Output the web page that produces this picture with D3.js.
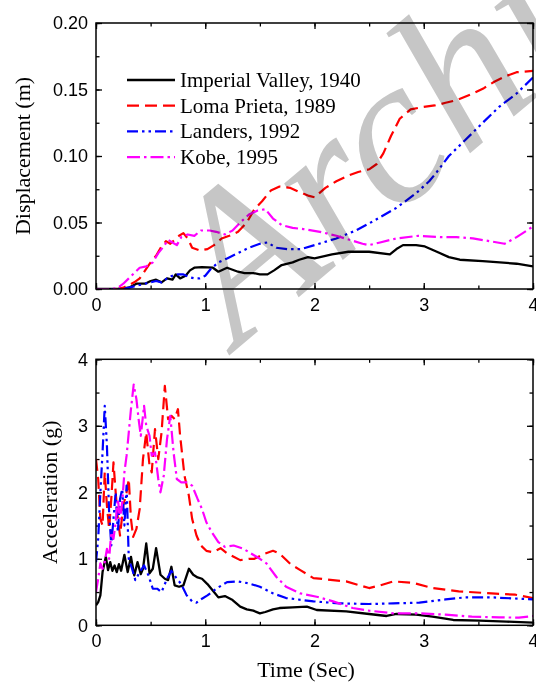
<!DOCTYPE html>
<html><head><meta charset="utf-8">
<script src="https://cdn.jsdelivr.net/npm/d3@7"></script>
<style>body{margin:0;background:#fff} svg{display:block}</style>
</head><body>
<svg id="chart" width="536" height="684"></svg>
<script>
// ---------- data ----------
const seriesNames = ["Imperial Valley, 1940", "Loma Prieta, 1989", "Landers, 1992", "Kobe, 1995"];
const seriesColors = ["#000000", "#ff0000", "#0000ff", "#ff00ff"];
const seriesDashes = [null, "12,6", "11,4,2.5,4,2.5,4", "13,4,2.5,4"];

const xTicks = [0, 1, 2, 3, 4];
const dispTicks = [0, 0.05, 0.10, 0.15, 0.20];
const accTicks = [0, 1, 2, 3, 4];

// Displacement (m) vs time (s)
const dispImperialT = [0,0.2,0.3,0.37,0.45,0.5,0.55,0.6,0.65,0.7,0.73,0.77,0.82,0.86,0.9,0.97,1.07,1.12,1.2,1.3,1.36,1.44,1.5,1.57,1.63,1.7,1.8,1.86,1.94,2.0,2.16,2.31,2.5,2.69,2.75,2.81,2.93,3.01,3.12,3.23,3.33,3.54,3.85,4.0];
const dispImperialV = [0,0,0.001,0.004,0.004,0.006,0.007,0.005,0.008,0.007,0.011,0.008,0.010,0.014,0.016,0.0165,0.016,0.013,0.016,0.013,0.012,0.012,0.011,0.011,0.014,0.018,0.020,0.022,0.024,0.023,0.026,0.028,0.028,0.026,0.030,0.033,0.033,0.032,0.028,0.024,0.022,0.021,0.019,0.017];

const dispLomaT = [0,0.2,0.25,0.3,0.35,0.4,0.45,0.5,0.55,0.6,0.64,0.68,0.72,0.76,0.8,0.84,0.88,0.95,1.02,1.08,1.15,1.22,1.3,1.38,1.45,1.52,1.6,1.68,1.78,1.86,1.95,2.0,2.1,2.2,2.3,2.4,2.5,2.57,2.63,2.7,2.78,2.88,3.0,3.1,3.2,3.3,3.45,3.55,3.65,3.75,3.85,4.0];
const dispLomaV = [0,0,0.001,0.003,0.005,0.008,0.014,0.020,0.025,0.032,0.036,0.034,0.037,0.040,0.042,0.038,0.031,0.029,0.030,0.033,0.038,0.040,0.043,0.050,0.060,0.066,0.074,0.077,0.076,0.073,0.070,0.069,0.076,0.081,0.085,0.088,0.090,0.094,0.102,0.115,0.128,0.135,0.137,0.138,0.140,0.142,0.147,0.151,0.156,0.160,0.163,0.164];

const dispLandersT = [0,0.25,0.3,0.35,0.4,0.5,0.55,0.6,0.65,0.7,0.75,0.8,0.85,0.9,0.95,1.0,1.05,1.12,1.2,1.3,1.4,1.5,1.57,1.65,1.75,1.88,2.0,2.2,2.38,2.56,2.75,2.93,3.05,3.12,3.23,3.38,3.54,3.69,3.85,4.0];
const dispLandersV = [0,0,0.001,0.002,0.003,0.005,0.006,0.005,0.008,0.010,0.011,0.011,0.009,0.008,0.008,0.010,0.015,0.020,0.023,0.027,0.031,0.034,0.035,0.031,0.030,0.030,0.033,0.038,0.044,0.052,0.061,0.072,0.081,0.088,0.100,0.112,0.125,0.137,0.147,0.159];

const dispKobeT = [0,0.15,0.2,0.25,0.3,0.35,0.4,0.46,0.52,0.57,0.62,0.66,0.7,0.74,0.78,0.84,0.9,0.96,1.04,1.1,1.18,1.25,1.32,1.4,1.48,1.55,1.62,1.7,1.8,1.9,2.05,2.2,2.32,2.44,2.5,2.6,2.75,2.95,3.15,3.3,3.45,3.6,3.74,3.85,4.0];
const dispKobeV = [0,0,0.001,0.004,0.008,0.012,0.016,0.017,0.020,0.027,0.032,0.037,0.035,0.033,0.039,0.041,0.040,0.044,0.044,0.043,0.041,0.044,0.050,0.056,0.059,0.060,0.053,0.048,0.046,0.045,0.043,0.040,0.037,0.034,0.033,0.035,0.038,0.040,0.039,0.039,0.038,0.036,0.034,0.039,0.047];

// Acceleration (g) vs time (s)
const accImperialT = [0,0.02,0.04,0.06,0.09,0.11,0.13,0.15,0.17,0.19,0.21,0.23,0.26,0.29,0.32,0.35,0.38,0.41,0.43,0.46,0.49,0.52,0.55,0.59,0.63,0.66,0.69,0.72,0.76,0.8,0.85,0.89,0.93,0.97,1.02,1.08,1.12,1.18,1.25,1.32,1.38,1.44,1.5,1.55,1.62,1.68,1.8,1.93,2.02,2.29,2.5,2.66,2.75,2.93,3.08,3.27,3.51,3.76,4.0];
const accImperialV = [0.3,0.35,0.45,0.8,1.03,0.83,0.95,0.82,0.9,0.8,0.92,0.82,1.06,0.8,1.03,0.75,0.95,0.77,0.85,1.23,0.78,0.85,1.16,0.76,0.7,0.68,0.88,0.6,0.58,0.6,0.85,0.76,0.72,0.7,0.62,0.5,0.42,0.44,0.38,0.28,0.24,0.22,0.18,0.2,0.24,0.26,0.27,0.28,0.23,0.21,0.17,0.14,0.17,0.16,0.13,0.08,0.07,0.055,0.04];

const accLomaT = [0,0.02,0.04,0.06,0.08,0.1,0.12,0.14,0.16,0.18,0.2,0.22,0.25,0.28,0.3,0.32,0.34,0.37,0.4,0.43,0.46,0.49,0.51,0.54,0.57,0.6,0.63,0.66,0.69,0.72,0.75,0.77,0.79,0.81,0.85,0.88,0.92,0.96,1.01,1.07,1.14,1.2,1.26,1.32,1.4,1.45,1.55,1.62,1.68,1.78,1.87,1.99,2.29,2.5,2.6,2.72,2.9,3.08,3.32,3.62,3.84,4.0];
const accLomaV = [2.5,2.2,1.6,1.5,2.3,1.8,1.45,1.9,2.45,2.0,1.6,1.35,1.8,2.0,2.2,1.6,1.33,1.45,1.75,2.5,2.9,2.4,2.3,2.95,2.5,2.9,3.6,3.1,3.15,3.1,3.25,2.85,2.55,2.25,1.95,1.6,1.35,1.2,1.12,1.1,1.16,1.08,1.03,0.98,1.0,1.0,1.08,1.12,1.08,0.92,0.83,0.71,0.66,0.56,0.6,0.66,0.64,0.56,0.51,0.48,0.46,0.41];

const accLandersT = [0,0.02,0.04,0.06,0.08,0.1,0.12,0.14,0.16,0.18,0.2,0.22,0.24,0.26,0.28,0.3,0.33,0.36,0.4,0.44,0.48,0.52,0.56,0.6,0.65,0.69,0.74,0.78,0.83,0.88,0.92,0.97,1.02,1.1,1.2,1.3,1.4,1.5,1.62,1.74,1.99,2.23,2.5,2.72,2.96,3.2,3.38,3.62,4.0];
const accLandersV = [0.95,1.3,2.0,2.6,3.3,2.7,1.7,1.2,1.6,2.0,1.4,1.9,2.05,1.5,2.1,1.0,0.85,0.68,0.8,0.9,0.75,0.55,0.55,0.5,0.7,0.82,0.7,0.62,0.45,0.36,0.34,0.4,0.45,0.55,0.65,0.66,0.63,0.58,0.48,0.41,0.36,0.33,0.32,0.33,0.34,0.39,0.42,0.42,0.39];

const accKobeT = [0,0.02,0.04,0.06,0.08,0.1,0.12,0.14,0.16,0.18,0.2,0.22,0.24,0.26,0.28,0.3,0.32,0.345,0.37,0.39,0.41,0.44,0.46,0.49,0.51,0.54,0.57,0.59,0.62,0.65,0.68,0.71,0.74,0.78,0.83,0.88,0.93,0.97,1.01,1.06,1.12,1.18,1.26,1.35,1.45,1.5,1.56,1.65,1.74,1.87,2.02,2.17,2.35,2.5,2.72,2.96,3.2,3.44,3.69,3.87,4.0];
const accKobeV = [0.5,0.7,0.93,0.85,0.95,1.15,1.0,1.4,1.3,1.55,1.9,1.6,1.85,2.3,2.55,2.9,3.25,3.62,3.4,3.1,2.85,3.3,3.0,2.85,2.55,2.6,2.2,2.0,2.25,2.8,3.15,2.6,2.2,2.15,2.15,2.1,1.9,1.75,1.55,1.4,1.25,1.18,1.2,1.15,1.05,1.0,0.93,0.73,0.58,0.48,0.43,0.36,0.26,0.22,0.18,0.18,0.16,0.13,0.12,0.115,0.14];

const dispT = [dispImperialT, dispLomaT, dispLandersT, dispKobeT];
const dispV = [dispImperialV, dispLomaV, dispLandersV, dispKobeV];
const accT = [accImperialT, accLomaT, accLandersT, accKobeT];
const accV = [accImperialV, accLomaV, accLandersV, accKobeV];

// ---------- drawing ----------
const svg = d3.select("#chart");
const L = 96, R = 533;
const tickFont = "Liberation Sans, Arial, sans-serif";
const serif = "Liberation Serif, Times New Roman, serif";

function panel(top, bottom, yDomain, yTicks, yMinor, yFmt, tsList, vsList, yTitle, yTitleX, id) {
  const x = d3.scaleLinear().domain([0, 4]).range([L, R]);
  const y = d3.scaleLinear().domain(yDomain).range([bottom, top]);
  const g = svg.append("g");
  const xMinor = d3.range(0, 4.01, 0.5);

  g.append("clipPath").attr("id", id).append("rect")
    .attr("x", L).attr("y", top).attr("width", R - L).attr("height", bottom - top);

  function styleAxis(sel) {
    sel.select(".domain").remove();
    sel.selectAll("line").attr("stroke", "#000").attr("stroke-width", 1.3);
    sel.selectAll("text").attr("font-family", tickFont).attr("font-size", 18).attr("fill", "#000");
  }
  g.append("g").attr("transform", `translate(0,${bottom})`)
    .call(d3.axisBottom(x).tickValues(xMinor).tickSizeInner(-3.5).tickSizeOuter(0).tickFormat(""))
    .call(styleAxis);
  g.append("g").attr("transform", `translate(0,${bottom})`)
    .call(d3.axisBottom(x).tickValues(xTicks).tickSizeInner(-6).tickSizeOuter(0).tickPadding(9).tickFormat(d3.format("d")))
    .call(styleAxis);
  g.append("g").attr("transform", `translate(0,${top})`)
    .call(d3.axisTop(x).tickValues(xMinor).tickSizeInner(-3.5).tickSizeOuter(0).tickFormat(""))
    .call(styleAxis);
  g.append("g").attr("transform", `translate(0,${top})`)
    .call(d3.axisTop(x).tickValues(xTicks).tickSizeInner(-6).tickSizeOuter(0).tickFormat(""))
    .call(styleAxis);
  g.append("g").attr("transform", `translate(${L},0)`)
    .call(d3.axisLeft(y).tickValues(yMinor).tickSizeInner(-3.5).tickSizeOuter(0).tickFormat(""))
    .call(styleAxis);
  g.append("g").attr("transform", `translate(${L},0)`)
    .call(d3.axisLeft(y).tickValues(yTicks).tickSizeInner(-6).tickSizeOuter(0).tickPadding(8).tickFormat(yFmt))
    .call(styleAxis);
  g.append("g").attr("transform", `translate(${R},0)`)
    .call(d3.axisRight(y).tickValues(yMinor).tickSizeInner(-3.5).tickSizeOuter(0).tickFormat(""))
    .call(styleAxis);
  g.append("g").attr("transform", `translate(${R},0)`)
    .call(d3.axisRight(y).tickValues(yTicks).tickSizeInner(-6).tickSizeOuter(0).tickFormat(""))
    .call(styleAxis);

  const line = d3.line().x(d => x(d[0])).y(d => y(d[1]));
  const lines = g.append("g").attr("clip-path", `url(#${id})`);
  tsList.forEach((ts, i) => {
    const pts = ts.map((t, j) => [t, vsList[i][j]]);
    lines.append("path").datum(pts)
      .attr("d", line)
      .attr("fill", "none")
      .attr("stroke", seriesColors[i])
      .attr("stroke-width", i === 0 ? 2.3 : 2.2)
      .attr("stroke-linejoin", "round")
      .attr("stroke-dasharray", seriesDashes[i]);
  });

  g.append("rect").attr("x", L).attr("y", top).attr("width", R - L).attr("height", bottom - top)
    .attr("fill", "none").attr("stroke", "#000").attr("stroke-width", 1.5);

  g.append("text")
    .attr("transform", `translate(${yTitleX},${(top + bottom) / 2}) rotate(-90)`)
    .attr("text-anchor", "middle")
    .attr("font-family", serif).attr("font-size", 22)
    .text(yTitle);
  return {x, y};
}

const p1 = panel(23, 289, [0, 0.2], dispTicks, d3.range(0, 0.2001, 0.025), d3.format(".2f"),
  dispT, dispV, "Displacement (m)", 30, "clipTop");
const p2 = panel(359.3, 625.3, [0, 4], accTicks, d3.range(0, 4.01, 0.5), d3.format("d"),
  accT, accV, "Acceleration (g)", 57, "clipBot");

svg.append("text").attr("x", 306).attr("y", 677).attr("text-anchor", "middle")
  .attr("font-family", serif).attr("font-size", 22).text("Time (Sec)");

// legend
const leg = svg.append("g");
seriesNames.forEach((name, i) => {
  const cy = 80 + i * 25.7;
  leg.append("line").attr("x1", 127).attr("x2", 175).attr("y1", cy).attr("y2", cy)
    .attr("stroke", seriesColors[i]).attr("stroke-width", 2.3)
    .attr("stroke-dasharray", seriesDashes[i]);
  leg.append("text").attr("x", 180).attr("y", cy + 7)
    .attr("font-family", serif).attr("font-size", 21).text(name);
});

// watermark
svg.append("text")
  .attr("transform", "translate(238,348) rotate(-40)")
  .attr("font-family", serif).attr("font-style", "italic")
  .attr("font-size", 210).attr("fill", "#c6c6c6")
  .style("mix-blend-mode", "multiply")
  .text("Archive of SID");
</script>
</body></html>
